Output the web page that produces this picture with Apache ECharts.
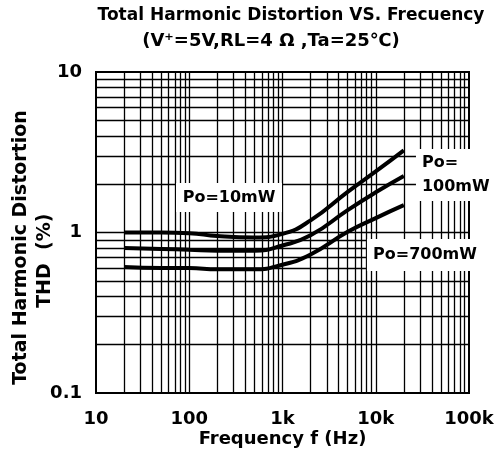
<!DOCTYPE html>
<html>
<head>
<meta charset="utf-8">
<script src="https://cdn.jsdelivr.net/npm/echarts@6/dist/echarts.min.js"></script>
<style>
    html, body { margin: 0; padding: 0; background: #fff; }
    #thd-vs-freq { width: 499px; height: 468px; }
</style>
</head>
<body>
<div id="thd-vs-freq"></div>
<script>
    // frequency points (Hz) and THD (%)
    var freq      = [20, 50, 100, 200, 500, 1000, 2000, 5000, 10000, 20000];
    var thd10mW   = [1.00, 1.00, 0.99, 0.95, 0.93, 0.98, 1.19, 1.79, 2.40, 3.25];
    var thd100mW  = [0.80, 0.79, 0.78, 0.77, 0.77, 0.83, 0.96, 1.38, 1.78, 2.25];
    var thd700mW  = [0.61, 0.60, 0.60, 0.59, 0.59, 0.63, 0.73, 1.01, 1.23, 1.48];

    var xTickValues = [10, 100, 1000, 10000, 100000];
    var xTickLabels = ['10', '100', '1k', '10k', '100k'];
    var yTickValues = [0.1, 1, 10];
    var yTickLabels = ['0.1', '1', '10'];

    // curve labels: [text, freq, thd]
    var curveLabels = [
        ['Po=10mW', 267, 1.65],
        ['Po=\n100mW', 69000, 2.28],
        ['Po=700mW', 33700, 0.724]
    ];

    // log paper grid: 1..9 in every decade
    var xGrid = [], yGrid = [];
    [10, 100, 1000, 10000].forEach(function (d) {
        for (var m = 1; m <= 9; m++) { if (d * m > 10) xGrid.push(d * m); }
    });
    [0.1, 1].forEach(function (d) {
        for (var m = 1; m <= 9; m++) { if (d * m > 0.1 + 1e-9) yGrid.push(+(d * m).toFixed(2)); }
    });

    var font = 'DejaVu Sans';

    function tickText(values, labels) {
        return function (v) {
            for (var i = 0; i < values.length; i++) {
                if (Math.abs(Math.log10(v) - Math.log10(values[i])) < 1e-6) return labels[i];
            }
            return '';
        };
    }

    function curve(name, data) {
        return {
            name: name,
            type: 'line',
            z: 3,
            smooth: 0.5,
            symbol: 'none',
            lineStyle: { color: '#000', width: 4 },
            data: freq.map(function (f, i) { return [f, data[i]]; })
        };
    }

    var chart = echarts.init(document.getElementById('thd-vs-freq'));
    var option = {
        animation: false,
        backgroundColor: '#fff',
        title: [
            {
                text: 'Total Harmonic Distortion VS. Frecuency',
                left: 291, top: 7, padding: 0, textAlign: 'center',
                textStyle: { fontFamily: font, fontSize: 17, fontWeight: 'bold', color: '#000' }
            },
            {
                text: '(V\u207A=5V,RL=4 \u03A9 ,Ta=25\u2103)',
                left: 271, top: 32, padding: 0, textAlign: 'center',
                textStyle: { fontFamily: font, fontSize: 18, fontWeight: 'bold', color: '#000' }
            }
        ],
        grid: {
            left: 96, right: 30, top: 72, bottom: 75,
            outerBoundsMode: 'none',
            show: true, borderColor: '#000', borderWidth: 2, backgroundColor: '#fff'
        },
        xAxis: {
            type: 'log',
            logBase: 10,
            min: 10, max: 100000,
            name: 'Frequency f (Hz)',
            nameLocation: 'middle',
            nameGap: 37,
            nameMoveOverlap: false,
            nameTextStyle: { fontFamily: font, fontSize: 18, fontWeight: 'bold', color: '#000' },
            axisLine: { show: false },
            axisTick: { show: false },
            splitLine: { show: false },
            axisLabel: {
                margin: 17,
                fontFamily: font, fontSize: 18, fontWeight: 'bold', color: '#000',
                formatter: tickText(xTickValues, xTickLabels)
            }
        },
        yAxis: {
            type: 'log',
            logBase: 10,
            min: 0.1, max: 10,
            name: 'Total Harmonic Distortion\nTHD  (%)    ',
            nameLocation: 'middle',
            nameGap: 39,
            nameMoveOverlap: false,
            nameTextStyle: {
                fontFamily: font, fontSize: 19, fontWeight: 'bold', color: '#000',
                lineHeight: 24, padding: [0, 30, 0, 0]
            },
            axisLine: { show: false },
            axisTick: { show: false },
            splitLine: { show: false },
            axisLabel: {
                margin: 14,
                fontFamily: font, fontSize: 18, fontWeight: 'bold', color: '#000',
                formatter: tickText(yTickValues, yTickLabels)
            }
        },
        series: [
            {
                name: 'grid',
                type: 'line',
                z: 1,
                data: [],
                markLine: {
                    silent: true,
                    symbol: 'none',
                    label: { show: false },
                    lineStyle: { color: '#000', width: 1.3, type: 'solid' },
                    data: xGrid.map(function (v) { return { xAxis: v }; })
                        .concat(yGrid.map(function (v) { return { yAxis: v }; }))
                }
            },
            curve('Po=10mW', thd10mW),
            curve('Po=100mW', thd100mW),
            curve('Po=700mW', thd700mW),
            {
                name: 'labels',
                type: 'line',
                z: 4,
                data: [],
                markPoint: {
                    silent: true,
                    symbol: 'rect',
                    itemStyle: { color: '#fff' },
                    label: {
                        show: true,
                        fontFamily: font, fontSize: 16, fontWeight: 'bold', color: '#000',
                        lineHeight: 24
                    },
                    data: [
                        {
                            coord: [curveLabels[0][1], curveLabels[0][2]],
                            symbolSize: [106, 29],
                            label: { formatter: curveLabels[0][0], position: 'inside' }
                        },
                        {
                            coord: [curveLabels[1][1], curveLabels[1][2]],
                            symbolSize: [76, 52],
                            label: { formatter: curveLabels[1][0], position: 'inside', align: 'left', offset: [-32, 0] }
                        },
                        {
                            coord: [curveLabels[2][1], curveLabels[2][2]],
                            symbolSize: [116, 32],
                            label: { formatter: curveLabels[2][0], position: 'inside' }
                        }
                    ]
                }
            }
        ]
    };
    chart.setOption(option);
    window.addEventListener('resize', function () { chart.resize(); });
</script>
</body>
</html>
